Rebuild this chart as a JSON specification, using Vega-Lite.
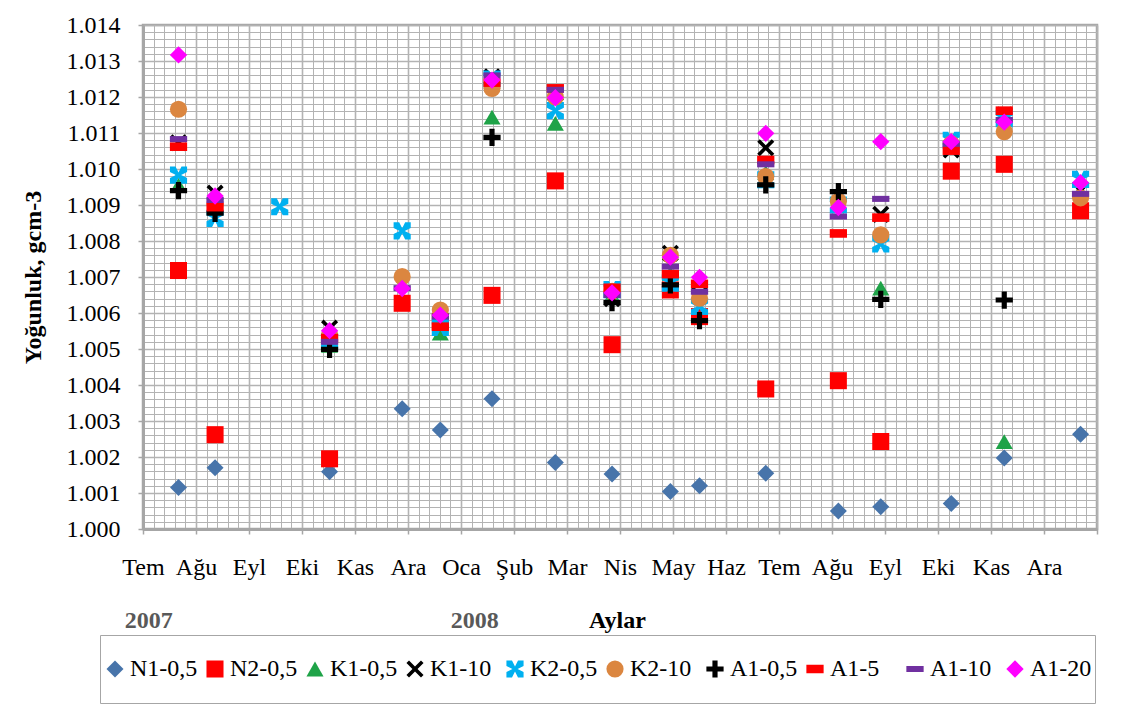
{
  "$schema": "https://vega.github.io/schema/vega-lite/v6.json",
  "width": 954,
  "height": 504,
  "autosize": {"type": "none"},
  "padding": {"left": 143, "top": 25, "right": 41, "bottom": 189},
  "background": "white",
  "config": {
    "font": "Liberation Serif, Times New Roman, serif",
    "view": {"stroke": "#a6a6a6", "strokeWidth": 2.5}
  },
  "data": {
    "values": [
      {"s": "N1-0,5", "ay": 0.67, "d": 1.00115}, {"s": "N1-0,5", "ay": 1.36, "d": 1.0017}, {"s": "N1-0,5", "ay": 3.52, "d": 1.00159}, {"s": "N1-0,5", "ay": 4.89, "d": 1.00334}, {"s": "N1-0,5", "ay": 5.61, "d": 1.00275}, {"s": "N1-0,5", "ay": 6.585, "d": 1.00362}, {"s": "N1-0,5", "ay": 7.78, "d": 1.00185}, {"s": "N1-0,5", "ay": 8.85, "d": 1.00153}, {"s": "N1-0,5", "ay": 9.95, "d": 1.00104}, {"s": "N1-0,5", "ay": 10.5, "d": 1.0012}, {"s": "N1-0,5", "ay": 11.75, "d": 1.00155}, {"s": "N1-0,5", "ay": 13.12, "d": 1.0005}, {"s": "N1-0,5", "ay": 13.92, "d": 1.00062}, {"s": "N1-0,5", "ay": 15.25, "d": 1.00071}, {"s": "N1-0,5", "ay": 16.25, "d": 1.00197}, {"s": "N1-0,5", "ay": 17.69, "d": 1.00263},
      {"s": "N2-0,5", "ay": 0.67, "d": 1.00718}, {"s": "N2-0,5", "ay": 1.36, "d": 1.00262}, {"s": "N2-0,5", "ay": 3.52, "d": 1.00195}, {"s": "N2-0,5", "ay": 4.89, "d": 1.00627}, {"s": "N2-0,5", "ay": 5.61, "d": 1.00576}, {"s": "N2-0,5", "ay": 6.585, "d": 1.00649}, {"s": "N2-0,5", "ay": 7.78, "d": 1.00967}, {"s": "N2-0,5", "ay": 8.85, "d": 1.00512}, {"s": "N2-0,5", "ay": 9.95, "d": 1.00664}, {"s": "N2-0,5", "ay": 10.5, "d": 1.0059}, {"s": "N2-0,5", "ay": 11.75, "d": 1.00389}, {"s": "N2-0,5", "ay": 13.12, "d": 1.00412}, {"s": "N2-0,5", "ay": 13.92, "d": 1.00243}, {"s": "N2-0,5", "ay": 15.25, "d": 1.00994}, {"s": "N2-0,5", "ay": 16.25, "d": 1.01013}, {"s": "N2-0,5", "ay": 17.69, "d": 1.00884},
      {"s": "K1-0,5", "ay": 0.67, "d": 1.00955}, {"s": "K1-0,5", "ay": 1.36, "d": 1.009}, {"s": "K1-0,5", "ay": 3.52, "d": 1.0051}, {"s": "K1-0,5", "ay": 5.61, "d": 1.00544}, {"s": "K1-0,5", "ay": 6.585, "d": 1.01144}, {"s": "K1-0,5", "ay": 7.78, "d": 1.01127}, {"s": "K1-0,5", "ay": 8.85, "d": 1.0065}, {"s": "K1-0,5", "ay": 9.95, "d": 1.0071}, {"s": "K1-0,5", "ay": 11.75, "d": 1.0099}, {"s": "K1-0,5", "ay": 13.92, "d": 1.00669}, {"s": "K1-0,5", "ay": 16.25, "d": 1.00243},
      {"s": "K1-10", "ay": 0.67, "d": 1.01073}, {"s": "K1-10", "ay": 1.36, "d": 1.00933}, {"s": "K1-10", "ay": 3.52, "d": 1.00558}, {"s": "K1-10", "ay": 6.585, "d": 1.01256}, {"s": "K1-10", "ay": 7.78, "d": 1.0121}, {"s": "K1-10", "ay": 8.85, "d": 1.0064}, {"s": "K1-10", "ay": 9.95, "d": 1.00766}, {"s": "K1-10", "ay": 10.5, "d": 1.0065}, {"s": "K1-10", "ay": 11.75, "d": 1.01059}, {"s": "K1-10", "ay": 13.92, "d": 1.00874}, {"s": "K1-10", "ay": 15.25, "d": 1.01053}, {"s": "K1-10", "ay": 16.25, "d": 1.0115}, {"s": "K1-10", "ay": 17.69, "d": 1.0094},
      {"s": "K2-0,5", "ay": 0.67, "d": 1.00983}, {"s": "K2-0,5", "ay": 1.36, "d": 1.00863}, {"s": "K2-0,5", "ay": 2.58, "d": 1.00895}, {"s": "K2-0,5", "ay": 3.52, "d": 1.0052}, {"s": "K2-0,5", "ay": 4.89, "d": 1.00828}, {"s": "K2-0,5", "ay": 5.61, "d": 1.0056}, {"s": "K2-0,5", "ay": 6.585, "d": 1.0125}, {"s": "K2-0,5", "ay": 7.78, "d": 1.01162}, {"s": "K2-0,5", "ay": 8.85, "d": 1.00665}, {"s": "K2-0,5", "ay": 9.95, "d": 1.00683}, {"s": "K2-0,5", "ay": 10.5, "d": 1.00618}, {"s": "K2-0,5", "ay": 11.75, "d": 1.0097}, {"s": "K2-0,5", "ay": 13.12, "d": 1.009}, {"s": "K2-0,5", "ay": 13.92, "d": 1.00792}, {"s": "K2-0,5", "ay": 15.25, "d": 1.0108}, {"s": "K2-0,5", "ay": 16.25, "d": 1.0114}, {"s": "K2-0,5", "ay": 17.69, "d": 1.00971},
      {"s": "K2-10", "ay": 0.67, "d": 1.01166}, {"s": "K2-10", "ay": 1.36, "d": 1.00903}, {"s": "K2-10", "ay": 3.52, "d": 1.0054}, {"s": "K2-10", "ay": 4.89, "d": 1.00701}, {"s": "K2-10", "ay": 5.61, "d": 1.00608}, {"s": "K2-10", "ay": 6.585, "d": 1.01224}, {"s": "K2-10", "ay": 7.78, "d": 1.012}, {"s": "K2-10", "ay": 8.85, "d": 1.0066}, {"s": "K2-10", "ay": 9.95, "d": 1.0076}, {"s": "K2-10", "ay": 10.5, "d": 1.00641}, {"s": "K2-10", "ay": 11.75, "d": 1.00979}, {"s": "K2-10", "ay": 13.12, "d": 1.0091}, {"s": "K2-10", "ay": 13.92, "d": 1.00817}, {"s": "K2-10", "ay": 15.25, "d": 1.0107}, {"s": "K2-10", "ay": 16.25, "d": 1.01104}, {"s": "K2-10", "ay": 17.69, "d": 1.0092},
      {"s": "A1-0,5", "ay": 0.67, "d": 1.0094}, {"s": "A1-0,5", "ay": 1.36, "d": 1.00877}, {"s": "A1-0,5", "ay": 3.52, "d": 1.00499}, {"s": "A1-0,5", "ay": 6.585, "d": 1.01088}, {"s": "A1-0,5", "ay": 8.85, "d": 1.00629}, {"s": "A1-0,5", "ay": 9.95, "d": 1.00678}, {"s": "A1-0,5", "ay": 10.5, "d": 1.00579}, {"s": "A1-0,5", "ay": 11.75, "d": 1.00956}, {"s": "A1-0,5", "ay": 13.12, "d": 1.00937}, {"s": "A1-0,5", "ay": 13.92, "d": 1.00638}, {"s": "A1-0,5", "ay": 16.25, "d": 1.00636},
      {"s": "A1-5", "ay": 0.67, "d": 1.01062}, {"s": "A1-5", "ay": 1.36, "d": 1.00894}, {"s": "A1-5", "ay": 3.52, "d": 1.0053}, {"s": "A1-5", "ay": 5.61, "d": 1.00562}, {"s": "A1-5", "ay": 6.585, "d": 1.0124}, {"s": "A1-5", "ay": 7.78, "d": 1.01224}, {"s": "A1-5", "ay": 8.85, "d": 1.0067}, {"s": "A1-5", "ay": 9.95, "d": 1.00708}, {"s": "A1-5", "ay": 10.5, "d": 1.00681}, {"s": "A1-5", "ay": 11.75, "d": 1.01025}, {"s": "A1-5", "ay": 13.12, "d": 1.00821}, {"s": "A1-5", "ay": 13.92, "d": 1.00865}, {"s": "A1-5", "ay": 15.25, "d": 1.01051}, {"s": "A1-5", "ay": 16.25, "d": 1.01162},
      {"s": "A1-10", "ay": 0.67, "d": 1.01083}, {"s": "A1-10", "ay": 1.36, "d": 1.00914}, {"s": "A1-10", "ay": 3.52, "d": 1.0052}, {"s": "A1-10", "ay": 4.89, "d": 1.00669}, {"s": "A1-10", "ay": 5.61, "d": 1.0059}, {"s": "A1-10", "ay": 6.585, "d": 1.0126}, {"s": "A1-10", "ay": 7.78, "d": 1.0122}, {"s": "A1-10", "ay": 8.85, "d": 1.0065}, {"s": "A1-10", "ay": 9.95, "d": 1.00729}, {"s": "A1-10", "ay": 10.5, "d": 1.00659}, {"s": "A1-10", "ay": 11.75, "d": 1.01013}, {"s": "A1-10", "ay": 13.12, "d": 1.00868}, {"s": "A1-10", "ay": 13.92, "d": 1.00917}, {"s": "A1-10", "ay": 15.25, "d": 1.0107}, {"s": "A1-10", "ay": 16.25, "d": 1.01136}, {"s": "A1-10", "ay": 17.69, "d": 1.00931},
      {"s": "A1-20", "ay": 0.67, "d": 1.01317}, {"s": "A1-20", "ay": 1.36, "d": 1.00925}, {"s": "A1-20", "ay": 3.52, "d": 1.00551}, {"s": "A1-20", "ay": 4.89, "d": 1.00668}, {"s": "A1-20", "ay": 5.61, "d": 1.00594}, {"s": "A1-20", "ay": 6.585, "d": 1.01247}, {"s": "A1-20", "ay": 7.78, "d": 1.01198}, {"s": "A1-20", "ay": 8.85, "d": 1.00656}, {"s": "A1-20", "ay": 9.95, "d": 1.00755}, {"s": "A1-20", "ay": 10.5, "d": 1.00699}, {"s": "A1-20", "ay": 11.75, "d": 1.01099}, {"s": "A1-20", "ay": 13.12, "d": 1.00893}, {"s": "A1-20", "ay": 13.92, "d": 1.01076}, {"s": "A1-20", "ay": 15.25, "d": 1.01076}, {"s": "A1-20", "ay": 16.25, "d": 1.0113}, {"s": "A1-20", "ay": 17.69, "d": 1.00962}
    ]
  },
  "layer": [
    {
      "mark": {"type": "point", "filled": true, "opacity": 1, "strokeWidth": 0},
      "encoding": {
        "x": {
          "field": "ay", "type": "quantitative",
          "scale": {"domain": [0, 18], "nice": false, "zero": false},
          "axis": {
            "title": null, "orient": "bottom",
            "values": [0,0.2,0.4,0.6,0.8,1,1.2,1.4,1.6,1.8,2,2.2,2.4,2.6,2.8,3,3.2,3.4,3.6,3.8,4,4.2,4.4,4.6,4.8,5,5.2,5.4,5.6,5.8,6,6.2,6.4,6.6,6.8,7,7.2,7.4,7.6,7.8,8,8.2,8.4,8.6,8.8,9,9.2,9.4,9.6,9.8,10,10.2,10.4,10.6,10.8,11,11.2,11.4,11.6,11.8,12,12.2,12.4,12.6,12.8,13,13.2,13.4,13.6,13.8,14,14.2,14.4,14.6,14.8,15,15.2,15.4,15.6,15.8,16,16.2,16.4,16.6,16.8,17,17.2,17.4,17.6,17.8,18],
            "labelExpr": "abs(datum.value - round(datum.value)) < 0.01 && datum.value < 17.5 ? ['Tem','Ağu','Eyl','Eki','Kas','Ara','Oca','Şub','Mar','Nis','May','Haz','Tem','Ağu','Eyl','Eki','Kas','Ara'][round(datum.value)] : ''",
            "labelFont": "Liberation Serif, Times New Roman, serif", "labelFontSize": 24, "labelColor": "black",
            "labelPadding": 21, "labelOverlap": false, "labelFlush": false,
            "tickSize": 5, "tickColor": "#a6a6a6", "tickWidth": 1.5,
            "tickOpacity": {"condition": {"test": "abs(datum.value - round(datum.value)) > 0.01", "value": 0}, "value": 1},
            "domainColor": "#a6a6a6", "domainWidth": 3,
            "grid": true, "gridColor": "#b3b3b3",
            "gridWidth": {"condition": {"test": "abs(datum.value - round(datum.value)) > 0.01", "value": 1}, "value": 1.6}
          }
        },
        "y": {
          "field": "d", "type": "quantitative",
          "scale": {"domain": [1.0, 1.014], "nice": false, "zero": false},
          "axis": {
            "title": "Yoğunluk, gcm-3",
            "titleFont": "Liberation Serif, Times New Roman, serif", "titleFontSize": 24, "titleFontWeight": "bold", "titleColor": "black", "titlePadding": 21,
            "values": [1,1.0002,1.0004,1.0006,1.0008,1.001,1.0012,1.0014,1.0016,1.0018,1.002,1.0022,1.0024,1.0026,1.0028,1.003,1.0032,1.0034,1.0036,1.0038,1.004,1.0042,1.0044,1.0046,1.0048,1.005,1.0052,1.0054,1.0056,1.0058,1.006,1.0062,1.0064,1.0066,1.0068,1.007,1.0072,1.0074,1.0076,1.0078,1.008,1.0082,1.0084,1.0086,1.0088,1.009,1.0092,1.0094,1.0096,1.0098,1.01,1.0102,1.0104,1.0106,1.0108,1.011,1.0112,1.0114,1.0116,1.0118,1.012,1.0122,1.0124,1.0126,1.0128,1.013,1.0132,1.0134,1.0136,1.0138,1.014],
            "labelExpr": "abs(datum.value*1000 - round(datum.value*1000)) < 0.01 ? format(datum.value, '.3f') : ''",
            "labelFont": "Liberation Serif, Times New Roman, serif", "labelFontSize": 24, "labelColor": "black",
            "labelPadding": 18, "labelOverlap": false, "labelFlush": false,
            "tickSize": 5, "tickColor": "#a6a6a6", "tickWidth": 1.5,
            "tickOpacity": {"condition": {"test": "abs(datum.value*1000 - round(datum.value*1000)) > 0.01", "value": 0}, "value": 1},
            "domainColor": "#a6a6a6", "domainWidth": 3,
            "grid": true, "gridColor": "#b3b3b3",
            "gridWidth": {"condition": {"test": "abs(datum.value*1000 - round(datum.value*1000)) > 0.01", "value": 1}, "value": 1.6}
          }
        },
        "color": {
          "field": "s", "type": "nominal",
          "scale": {
            "domain": ["N1-0,5", "N2-0,5", "K1-0,5", "K1-10", "K2-0,5", "K2-10", "A1-0,5", "A1-5", "A1-10", "A1-20"],
            "range": ["#4774AA", "#FF0000", "#1FA348", "#000000", "#00B0F0", "#DB8640", "#000000", "#FF0000", "#7030A0", "#FF00FF"]
          },
          "legend": {
            "title": null, "orient": "none", "legendX": -43, "legendY": 610,
            "direction": "horizontal", "columns": 10, "gridAlign": "all",
            "padding": 3, "clipHeight": 62, "columnPadding": 5,
            "strokeColor": "#a6a6a6",
            "labelFont": "Liberation Serif, Times New Roman, serif", "labelFontSize": 24, "labelColor": "black", "labelOffset": 3,
            "symbolStrokeWidth": 0,
            "encode": {"legend": {"update": {"strokeWidth": {"value": 4}}}}
          }
        },
        "shape": {
          "field": "s", "type": "nominal",
          "scale": {
            "domain": ["N1-0,5", "N2-0,5", "K1-0,5", "K1-10", "K2-0,5", "K2-10", "A1-0,5", "A1-5", "A1-10", "A1-20"],
            "range": [
              "diamond", "square", "triangle-up",
              "M-0.7,-1L0,-0.3L0.7,-1L1,-0.7L0.3,0L1,0.7L0.7,1L0,0.3L-0.7,1L-1,0.7L-0.3,0L-1,-0.7Z",
              "M-1,-1L-0.35,-1L0,-0.3L0.35,-1L1,-1L1,-0.35L0.3,0L1,0.35L1,1L0.35,1L0,0.3L-0.35,1L-1,1L-1,0.35L-0.3,0L-1,-0.35Z",
              "circle",
              "M-0.3,-1L0.3,-1L0.3,-0.3L1,-0.3L1,0.3L0.3,0.3L0.3,1L-0.3,1L-0.3,0.3L-1,0.3L-1,-0.3L-0.3,-0.3Z",
              "M-1,-0.5L1,-0.5L1,0.5L-1,0.5Z",
              "M-1,-0.35L1,-0.35L1,0.35L-1,0.35Z",
              "diamond"
            ]
          },
          "legend": null
        },
        "size": {
          "field": "s", "type": "nominal",
          "scale": {
            "domain": ["N1-0,5", "N2-0,5", "K1-0,5", "K1-10", "K2-0,5", "K2-10", "A1-0,5", "A1-5", "A1-10", "A1-20"],
            "range": [289, 300, 225, 400, 361, 289, 289, 196, 484, 289]
          },
          "legend": null
        }
      }
    },
    {
      "mark": {"type": "point", "opacity": 0},
      "encoding": {
        "x": {
          "field": "ay", "type": "quantitative",
          "axis": {
            "orient": "bottom",
            "title": "Aylar",
            "titleFont": "Liberation Serif, Times New Roman, serif", "titleFontSize": 24, "titleFontWeight": "bold", "titleColor": "black",
            "titleBaseline": "top", "titleY": 79, "titleX": 474,
            "values": [0.1, 6.25],
            "labelExpr": "datum.value < 3 ? '2007' : '2008'",
            "labelFont": "Liberation Serif, Times New Roman, serif", "labelFontSize": 24, "labelFontWeight": "bold", "labelColor": "#595959",
            "labelPadding": 79, "labelOverlap": false, "labelFlush": false,
            "ticks": false, "domain": false, "grid": false
          }
        }
      }
    }
  ],
  "resolve": {"axis": {"x": "independent"}}
}
